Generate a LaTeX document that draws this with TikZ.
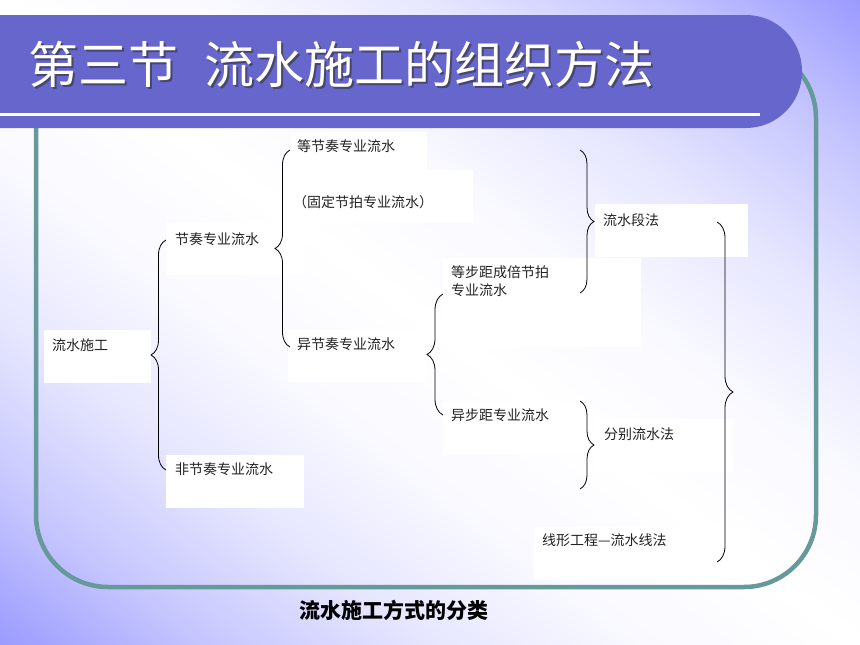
\documentclass[tikz,border=0pt]{standalone}
\usepackage{fontspec}
\newfontfamily\cjkf{Noto Sans CJK SC}
\usetikzlibrary{decorations.pathreplacing}
\definecolor{bgblue}{RGB}{153,153,255}
\colorlet{bgc6}{bgblue!6!white}
\colorlet{bgc25}{bgblue!25!white}
\colorlet{bgc56}{bgblue!56!white}
\pgfdeclarehorizontalshading{diagbg}{100bp}{color(0bp)=(bgblue); color(25bp)=(bgblue); color(31.25bp)=(bgc56); color(37.5bp)=(bgc25); color(43.75bp)=(bgc6); color(50bp)=(white); color(56.25bp)=(bgc6); color(62.5bp)=(bgc25); color(68.75bp)=(bgc56); color(75bp)=(bgblue); color(100bp)=(bgblue)}
\definecolor{barcol}{RGB}{102,102,204}
\definecolor{framecol}{RGB}{102,153,153}
\definecolor{txtcol}{RGB}{35,35,35}
\definecolor{shadowcol}{RGB}{70,70,110}
\newcommand{\shadowtitle}[1]{\rlap{\hspace{2pt}\raisebox{-2pt}[0pt][0pt]{\color{shadowcol}#1}}#1}
\tikzset{
  whitebox/.style={fill=white, draw=none, anchor=north west, inner sep=0pt},
  boxtext/.style={anchor=base west, inner sep=0pt, text=txtcol, font=\cjkf\fontsize{14}{18}\selectfont, align=left},
  titletext/.style={anchor=base west, inner sep=0pt, font=\cjkf\fontsize{50}{60}\selectfont},
  bracestyle/.style={draw=black, line width=0.8pt, decorate, decoration={brace, amplitude=#1}},
}
\begin{document}
\begin{tikzpicture}[x=1pt,y=-1pt]
\useasboundingbox (0,0) rectangle (860,645);
\begin{scope}[transform canvas={shift={(430,322.5)}, rotate=53.13}]
  \shade[shading=diagbg] (-520pt,-620pt) rectangle (520pt,620pt);
\end{scope}
% frame
\draw[framecol, line width=4.5pt, rounded corners=72pt] (36,46) rectangle (816,587);
% title bar
\fill[barcol, rounded corners=56pt] (-60,15) rectangle (802,128);
\draw[white, line width=3.5pt] (0,114.5) -- (760,114.5);
\node[titletext, text=white] (title) at (28,83) {\shadowtitle{第三节\hspace{26pt}流水施工的组织方法}};
% boxes
\node[whitebox, minimum width=107pt, minimum height=53pt] (A) at (44,330) {};
\node[whitebox, minimum width=138pt, minimum height=53pt] (B) at (166,222) {};
\node[whitebox, minimum width=138pt, minimum height=53pt] (C) at (166,455) {};
\node[whitebox, minimum width=137pt, minimum height=53pt] (D) at (290,132) {};
\node[whitebox, minimum width=186pt, minimum height=53pt] (E) at (287,170) {};
\node[whitebox, minimum width=139pt, minimum height=52pt] (F) at (288,330) {};
\node[whitebox, minimum width=198pt, minimum height=89pt] (G) at (443,258) {};
\node[whitebox, minimum width=153pt, minimum height=53pt] (H) at (595,204) {};
\node[whitebox, minimum width=148pt, minimum height=52pt] (I) at (443,402) {};
\node[whitebox, minimum width=138pt, minimum height=53pt] (J) at (595,419) {};
\node[whitebox, minimum width=213pt, minimum height=53pt] (K) at (534,527) {};
% texts
\node[boxtext] (tA) at (52,350) {流水施工};
\node[boxtext] (tB) at (175,244) {节奏专业流水};
\node[boxtext] (tC) at (175,474) {非节奏专业流水};
\node[boxtext] (tD) at (297,151) {等节奏专业流水};
\node[boxtext] (tE) at (293,207) {（固定节拍专业流水）};
\node[boxtext] (tF) at (297,349) {异节奏专业流水};
\node[boxtext] (tG1) at (451,277) {等步距成倍节拍};
\node[boxtext] (tG2) at (451,295) {专业流水};
\node[boxtext] (tH) at (603,225) {流水段法};
\node[boxtext] (tI) at (451,420) {异步距专业流水};
\node[boxtext] (tJ) at (604,439) {分别流水法};
\node[boxtext] (tK) at (542,545) {线形工程—流水线法};
% caption
\node[anchor=base, inner sep=0pt, font=\cjkf\bfseries\fontsize{21}{25}\selectfont, text=black] (cap) at (394,618) {流水施工方式的分类};
% braces
\coordinate (b1a) at (166,470); \coordinate (b1b) at (166,240);
\coordinate (b2a) at (290,347); \coordinate (b2b) at (290,150);
\coordinate (b3a) at (443,415); \coordinate (b3b) at (443,294);
\coordinate (b4a) at (580,150); \coordinate (b4b) at (580,293);
\coordinate (b5a) at (580,401); \coordinate (b5b) at (580,489);
\coordinate (b6a) at (717,222); \coordinate (b6b) at (717,562);
\draw[bracestyle=15pt] (b1a) -- (b1b);
\draw[bracestyle=15pt] (b2a) -- (b2b);
\draw[bracestyle=16pt] (b3a) -- (b3b);
\draw[bracestyle=14pt] (b4a) -- (b4b);
\draw[bracestyle=14pt] (b5a) -- (b5b);
\draw[bracestyle=16pt] (b6a) -- (b6b);
\end{tikzpicture}
\end{document}
